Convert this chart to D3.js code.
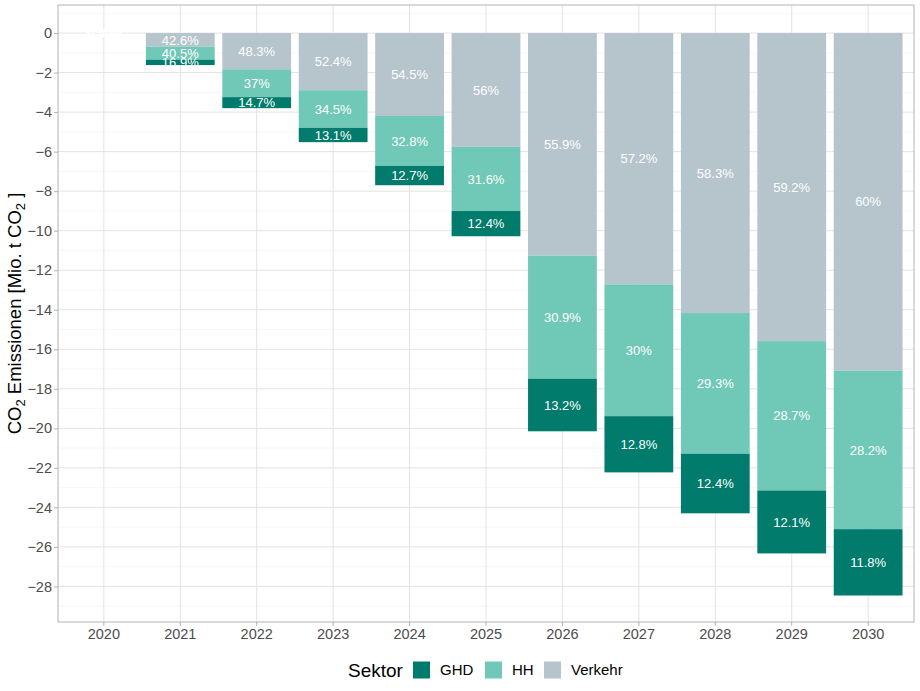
<!DOCTYPE html>
<html>
<head>
<meta charset="utf-8">
<script src="https://cdn.jsdelivr.net/npm/d3@7"></script>
<style>
  body { margin: 0; background: #fff; }
  text { font-family: "Liberation Sans", Arial, sans-serif; }
</style>
</head>
<body>
<svg id="chart" width="920" height="691"></svg>
<script>
// data
const years = ["2020", "2021", "2022", "2023", "2024", "2025", "2026", "2027", "2028", "2029", "2030"];
const totals = [0, -1.62, -3.80, -5.52, -7.70, -10.28, -20.15, -22.23, -24.30, -26.33, -28.46];
const shareVerkehr = [null, 42.6, 48.3, 52.4, 54.5, 56, 55.9, 57.2, 58.3, 59.2, 60];
const shareHH = [null, 40.5, 37, 34.5, 32.8, 31.6, 30.9, 30, 29.3, 28.7, 28.2];
const shareGHD = [null, 16.9, 14.7, 13.1, 12.7, 12.4, 13.2, 12.8, 12.4, 12.1, 11.8];
const sectors = ["GHD", "HH", "Verkehr"];
const colors = { GHD: "#007b6c", HH: "#70c8b6", Verkehr: "#b6c4cc" };
const yTicks = [0, -2, -4, -6, -8, -10, -12, -14, -16, -18, -20, -22, -24, -26, -28];

const svg = d3.select("#chart");
const m = { left: 58, right: 6, top: 5, bottom: 69 };
const W = 920, H = 691;

const x = d3.scaleBand()
    .domain(years)
    .range([m.left, W - m.right])
    .paddingInner(0.1)
    .paddingOuter(0.15);
const y = d3.scaleLinear()
    .domain([-29.8, 1.42])
    .range([H - m.bottom, m.top]);

const g = svg.append("g");

// minor grid
d3.range(1, -30, -2).forEach(v => {
    g.append("line")
        .attr("x1", m.left).attr("x2", W - m.right)
        .attr("y1", y(v)).attr("y2", y(v))
        .attr("stroke", "#f2f2f2").attr("stroke-width", 0.6);
});
// major grid
yTicks.forEach(v => {
    g.append("line")
        .attr("x1", m.left).attr("x2", W - m.right)
        .attr("y1", y(v)).attr("y2", y(v))
        .attr("stroke", "#e3e3e3").attr("stroke-width", 1);
});
years.forEach(yr => {
    g.append("line")
        .attr("x1", x(yr) + x.bandwidth() / 2).attr("x2", x(yr) + x.bandwidth() / 2)
        .attr("y1", m.top).attr("y2", H - m.bottom)
        .attr("stroke", "#e3e3e3").attr("stroke-width", 1);
});

// stacked bars: Verkehr next to zero, then HH, then GHD
const stackOrder = [["Verkehr", shareVerkehr], ["HH", shareHH], ["GHD", shareGHD]];
years.forEach((yr, i) => {
    let top = 0;
    stackOrder.forEach(([sec, shares]) => {
        const s = shares[i] === null ? 0 : shares[i];
        const v = totals[i] * s / 100;
        const bottom = top + v;
        g.append("rect")
            .attr("x", x(yr))
            .attr("width", x.bandwidth())
            .attr("y", y(top))
            .attr("height", y(bottom) - y(top))
            .attr("fill", colors[sec]);
        g.append("text")
            .attr("x", x(yr) + x.bandwidth() / 2)
            .attr("y", (y(top) + y(bottom)) / 2)
            .attr("dy", "0.36em")
            .attr("text-anchor", "middle")
            .attr("font-size", 13)
            .attr("fill", "#ffffff")
            .text(shares[i] === null ? "NaN%" : s + "%");
        top = bottom;
    });
});

// panel border
svg.append("rect")
    .attr("x", m.left).attr("y", m.top)
    .attr("width", W - m.right - m.left).attr("height", H - m.bottom - m.top)
    .attr("fill", "none").attr("stroke", "#b3b3b3").attr("stroke-width", 1);

// axes
const yAxis = svg.append("g")
    .attr("transform", `translate(${m.left},0)`)
    .call(d3.axisLeft(y).tickValues(yTicks).tickSize(4).tickPadding(2));
const xAxis = svg.append("g")
    .attr("transform", `translate(0,${H - m.bottom})`)
    .call(d3.axisBottom(x).tickSize(4).tickPadding(3));
[yAxis, xAxis].forEach(a => {
    a.select(".domain").remove();
    a.selectAll(".tick line").attr("stroke", "#b3b3b3");
    a.selectAll(".tick text")
        .attr("font-size", 14.5)
        .attr("fill", "#4d4d4d")
        .attr("font-family", "Liberation Sans, Arial, sans-serif");
});

// y title
const yt = svg.append("text")
    .attr("transform", `translate(21,${(m.top + H - m.bottom) / 2}) rotate(-90)`)
    .attr("text-anchor", "middle")
    .attr("font-size", 18.5)
    .attr("fill", "#000");
yt.append("tspan").text("CO");
yt.append("tspan").attr("font-size", 13).attr("dy", 4).text("2");
yt.append("tspan").attr("dy", -4).text(" Emissionen [Mio. t CO");
yt.append("tspan").attr("font-size", 13).attr("dy", 4).text("2");
yt.append("tspan").attr("dy", -4).text(" ]");

// legend
const lg = svg.append("g").attr("transform", "translate(0,670)");
lg.append("text").attr("x", 348).attr("y", 0).attr("dy", "0.35em")
    .attr("font-size", 19).attr("fill", "#000").text("Sektor");
const keyX = [413, 485, 544];
sectors.forEach((sec, i) => {
    lg.append("rect")
        .attr("x", keyX[i]).attr("y", -8.5)
        .attr("width", 17).attr("height", 17)
        .attr("fill", colors[sec]);
    lg.append("text")
        .attr("x", keyX[i] + 27).attr("y", 0).attr("dy", "0.35em")
        .attr("font-size", 15).attr("fill", "#000").text(sec);
});
</script>
</body>
</html>
